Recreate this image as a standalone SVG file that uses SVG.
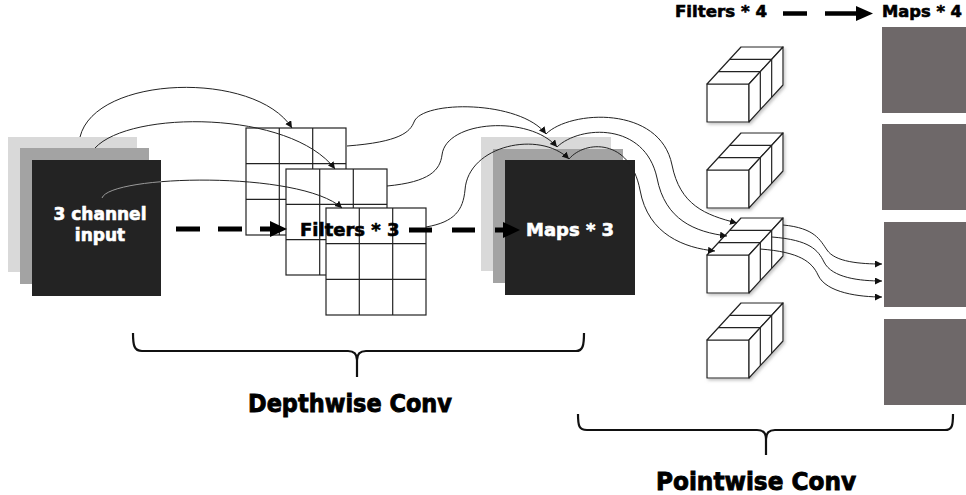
<svg xmlns="http://www.w3.org/2000/svg" xmlns:xlink="http://www.w3.org/1999/xlink" width="966" height="495" viewBox="0 0 966 495">
<defs>
<style>
.lbl{font-family:"DejaVu Sans","Liberation Sans",sans-serif;font-weight:bold;}
.wt{fill:#ffffff;stroke:#ffffff;stroke-width:0.6;}
.bk{fill:#000000;stroke:#000000;stroke-width:0.6;}
.big{stroke-width:0.9;}
.grid rect{fill:#ffffff;stroke:#222;stroke-width:1.2;}
.grid line{stroke:#222;stroke-width:1.2;}
.cube polygon,.cube rect{fill:#ffffff;stroke:#222;stroke-width:1.2;stroke-linejoin:round;}
.cube line{stroke:#222;stroke-width:1.2;}
.conn{fill:none;stroke:#222;stroke-width:1;}
.dash{stroke:#000;fill:none;}
.brace{fill:none;stroke:#111;stroke-width:2.2;}
.map4{fill:#6e6869;}
</style>
<marker id="ah" markerUnits="userSpaceOnUse" markerWidth="8" markerHeight="8" refX="7" refY="3.5" orient="auto">
<path d="M0,0 L7,3.5 L0,7 Z" fill="#111"/>
</marker>
<filter id="sh" x="-20%" y="-20%" width="150%" height="150%">
<feDropShadow dx="1.5" dy="2" stdDeviation="1.5" flood-color="#888" flood-opacity="0.5"/>
</filter>
<clipPath id="darkIn"><rect x="32" y="160" width="129" height="136"/></clipPath>
<g id="cubeShape" class="cube">
<rect x="0" y="0" width="42" height="38"/>
<polygon points="0,0 42,0 76,-37 34,-37"/>
<polygon points="42,0 76,-37 76,1 42,38"/>
<line x1="11.33" y1="-12.33" x2="53.33" y2="-12.33"/>
<line x1="22.67" y1="-24.67" x2="64.67" y2="-24.67"/>
<line x1="53.33" y1="-12.33" x2="53.33" y2="25.67"/>
<line x1="64.67" y1="-24.67" x2="64.67" y2="13.33"/>
</g>
</defs>
<rect width="966" height="495" fill="#ffffff"/>

<g id="input-stack">
<rect x="8" y="137" width="129" height="135" fill="#d9d9d9"/>
<rect x="20" y="148" width="129" height="136" fill="#a3a3a3"/>
<rect x="32" y="160" width="129" height="136" fill="#232323"/>
<text class="lbl wt" x="100" y="220" font-size="17" text-anchor="middle">3 channel</text>
<text class="lbl wt" x="100" y="241" font-size="17" text-anchor="middle">input</text>
</g>

<g id="filter-1" class="grid">
<rect x="246" y="128" width="100" height="107"/>
<line x1="279.3" y1="128" x2="279.3" y2="235"/>
<line x1="312.7" y1="128" x2="312.7" y2="235"/>
<line x1="246" y1="163.7" x2="346" y2="163.7"/>
<line x1="246" y1="199.3" x2="346" y2="199.3"/>
</g>
<g id="filter-2" class="grid">
<rect x="286" y="169" width="101" height="106"/>
<line x1="319.7" y1="169" x2="319.7" y2="275"/>
<line x1="353.3" y1="169" x2="353.3" y2="275"/>
<line x1="286" y1="204.3" x2="387" y2="204.3"/>
<line x1="286" y1="239.7" x2="387" y2="239.7"/>
</g>
<g id="filter-3" class="grid">
<rect x="326" y="208" width="100" height="107"/>
<line x1="359.3" y1="208" x2="359.3" y2="315"/>
<line x1="392.7" y1="208" x2="392.7" y2="315"/>
<line x1="326" y1="243.7" x2="426" y2="243.7"/>
<line x1="326" y1="279.3" x2="426" y2="279.3"/>
</g>
<g id="filters-label">
<text class="lbl bk" x="300" y="236" font-size="18">Filters * 3</text>
</g>

<g id="maps3-stack">
<rect x="481" y="137" width="130" height="134" fill="#d9d9d9"/>
<rect x="493" y="149" width="130" height="134" fill="#a3a3a3"/>
<rect x="505" y="160" width="130" height="135" fill="#232323"/>
<text class="lbl wt" x="526" y="236" font-size="18">Maps * 3</text>
</g>

<g id="pointwise-filters" filter="url(#sh)">
<g id="pf-1"><use xlink:href="#cubeShape" transform="translate(707,84)"/></g>
<g id="pf-2"><use xlink:href="#cubeShape" transform="translate(707,170)"/></g>
<g id="pf-3"><use xlink:href="#cubeShape" transform="translate(707,255)"/></g>
<g id="pf-4"><use xlink:href="#cubeShape" transform="translate(707,340)"/></g>
</g>

<g id="maps4">
<rect id="m4-1" class="map4" x="882" y="27" width="84" height="86"/>
<rect id="m4-2" class="map4" x="882" y="124" width="84" height="86"/>
<rect id="m4-3" class="map4" x="884" y="222" width="82" height="85"/>
<rect id="m4-4" class="map4" x="884" y="319" width="82" height="86"/>
</g>

<g id="top-legend">
<text class="lbl bk" x="675" y="17" font-size="16" textLength="92" lengthAdjust="spacingAndGlyphs">Filters * 4</text>
<text class="lbl bk" x="882" y="17" font-size="16" textLength="80" lengthAdjust="spacingAndGlyphs">Maps * 4</text>
</g>

<g id="connectors">
<line class="dash" x1="176" y1="229" x2="272" y2="229" stroke-width="5" stroke-dasharray="24 18"/>
<polygon points="270,221 287,229 270,237" fill="#000"/>
<line class="dash" x1="409" y1="230" x2="505" y2="230" stroke-width="5" stroke-dasharray="23 20"/>
<polygon points="503,222 520,230 503,238" fill="#000"/>
<line class="dash" x1="783" y1="13.5" x2="807" y2="13.5" stroke-width="4.5"/>
<line class="dash" x1="825" y1="13.5" x2="858" y2="13.5" stroke-width="4.5"/>
<polygon points="856,6 873,13.5 856,21" fill="#000"/>

<path class="conn" marker-end="url(#ah)" d="M80,137 C95,75 255,70 292,128"/>
<path class="conn" marker-end="url(#ah)" d="M95,148 C130,110 290,110 335,169"/>
<path class="conn" marker-end="url(#ah)" d="M102,198 C110,175 300,170 342,208"/>
<path d="M102,198 C110,175 300,170 342,208" fill="none" stroke="#9a9a9a" stroke-width="1" clip-path="url(#darkIn)"/>

<path class="conn" marker-end="url(#ah)" d="M347,146 C400,142 410,132 414,122 C422,100 520,100 546,134"/>
<path class="conn" marker-end="url(#ah)" d="M387,186 C430,182 440,170 442,155 C446,120 530,115 557,147"/>
<path class="conn" marker-end="url(#ah)" d="M426,227 C455,222 463,210 465,190 C468,145 540,130 569,159"/>

<path class="conn" marker-end="url(#ah)" d="M546,134 C570,110 660,105 672,165 C680,205 705,215 737,223"/>
<path class="conn" marker-end="url(#ah)" d="M557,147 C580,125 645,122 657,178 C665,220 695,232 727,236"/>
<path class="conn" marker-end="url(#ah)" d="M569,159 C585,140 630,138 640,190 C648,235 685,248 715,251"/>

<path class="conn" marker-end="url(#ah)" d="M783,225 C815,228 820,240 827,250 C835,262 860,264 882,264"/>
<path class="conn" marker-end="url(#ah)" d="M772,237 C810,240 818,250 824,262 C832,278 860,281 882,281"/>
<path class="conn" marker-end="url(#ah)" d="M760,249 C800,252 812,262 818,275 C826,293 860,297 882,297"/>
</g>

<g id="depthwise-brace">
<path class="brace" d="M133,333 C133,345 134,351 142,351 L348,351 C354,351 357,354 357,360 L357,377 M357,360 C357,354 360,351 366,351 L576,351 C583,351 584,345 584,333"/>
<text class="lbl bk big" x="248" y="412" font-size="25" textLength="204" lengthAdjust="spacingAndGlyphs">Depthwise Conv</text>
</g>
<g id="pointwise-brace">
<path class="brace" d="M578,414 C578,426 579,430 587,430 L757,430 C763,430 766,433 766,439 L766,455 M766,439 C766,433 769,430 775,430 L945,430 C952,430 953,426 953,414"/>
<text class="lbl bk big" x="656" y="490" font-size="25" textLength="200" lengthAdjust="spacingAndGlyphs">Pointwise Conv</text>
</g>
</svg>
